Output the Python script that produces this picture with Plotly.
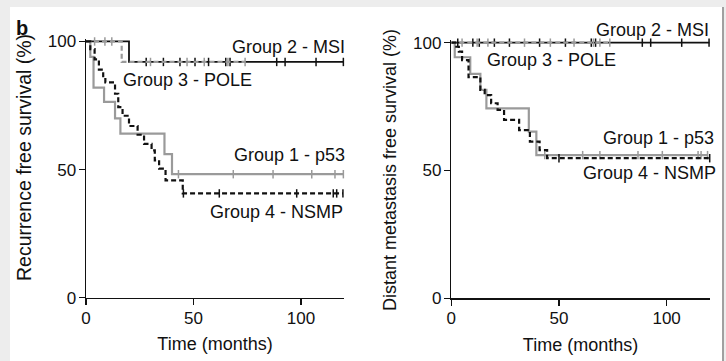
import plotly.graph_objects as go

# ---------------- data ----------------
# Left panel: Recurrence free survival (%)
rfs_msi_t = [0, 20]
rfs_msi_s = [100, 92]
rfs_msi_end = 120
rfs_msi_cens_t = [28, 36, 43.7, 50.7, 57, 65, 67, 88.7, 92.6, 107, 119.7]

rfs_pole_t = [0, 16.6]
rfs_pole_s = [100, 92]
rfs_pole_end = 74
rfs_pole_cens_t = [4, 8.8, 12]
rfs_pole_cens_t2 = [30, 47, 55, 66, 74]

rfs_p53_t = [0, 2, 3.5, 8.4, 13.5, 16, 36.5, 40]
rfs_p53_s = [100, 94, 82, 76.4, 70, 64, 56, 48.2]
rfs_p53_end = 120
rfs_p53_cens_t = [43, 68.5, 87, 105, 115.8, 119.7]

rfs_nsmp_t = [0, 2, 4, 6, 8, 9, 13.5, 15, 17, 20, 24, 27, 30.5, 32, 34, 37, 45]
rfs_nsmp_s = [100, 97, 93, 89, 86, 84, 79.6, 74.4, 71, 67, 63.6, 60, 57.5, 53.6, 50.4, 45.8, 40.7]
rfs_nsmp_end = 119.5
rfs_nsmp_cens_t = [45.3, 62, 98, 115, 116.6, 119.5]

# Right panel: Distant metastasis free survival (%)
dm_msi_t = [0]
dm_msi_s = [100]
dm_msi_end = 120
dm_msi_cens_t = [3, 10, 13, 20, 27, 41, 53, 65, 67, 88.7, 92.6, 107, 119.7]

dm_pole_t = [0]
dm_pole_s = [100]
dm_pole_end = 73.6
dm_pole_cens_t = [5, 12, 17, 34, 46, 57, 66, 69, 73.6]

dm_p53_t = [0, 1.6, 8.8, 13.5, 16.3, 36, 39.5]
dm_p53_s = [100, 94.3, 87.8, 81.5, 74.3, 65.2, 56]
dm_p53_end = 119
dm_p53_cens_t = [43.4, 61, 69, 86.7, 98, 114.6, 116, 119]

dm_nsmp_t = [0, 1.8, 3.5, 5, 8, 13.5, 15.5, 18.5, 21.5, 24.5, 31.5, 36.5, 41, 44.5]
dm_nsmp_s = [100, 98.4, 96.5, 93.2, 86.5, 81.5, 79.5, 76.3, 73.7, 69.8, 65.8, 61.3, 58, 54.8]
dm_nsmp_end = 120
dm_nsmp_cens_t = [50, 120]

x_ticks = [0, 50, 100]
y_ticks = [0, 50, 100]

group_labels = ["Group 1 - p53", "Group 2 - MSI", "Group 3 - POLE", "Group 4 - NSMP"]

BLACK = "#111111"
GRAY = "#9a9a9a"
FONT = "Liberation Sans, Arial, sans-serif"

W, H = 726, 361

fig = go.Figure()


def add_curve(t, s, end, cens, color, width, dash, xa, ya, cens2=None):
    xs = list(t) + [end]
    ys = list(s) + [s[-1]]
    fig.add_trace(go.Scatter(x=xs, y=ys, mode="lines", line=dict(color=color, width=width, dash=dash, shape="hv"),
                             xaxis=xa, yaxis=ya, showlegend=False, hoverinfo="skip"))
    if cens:
        fig.add_trace(go.Scatter(x=cens, y=[s[-1]] * len(cens), mode="markers",
                                 marker=dict(symbol="line-ns", size=6, line=dict(color=color, width=1.5)),
                                 xaxis=xa, yaxis=ya, showlegend=False, cliponaxis=False, hoverinfo="skip"))
    if cens2:
        fig.add_trace(go.Scatter(x=cens2, y=[s[0]] * len(cens2), mode="markers",
                                 marker=dict(symbol="line-ns", size=6, line=dict(color=color, width=1.5)),
                                 xaxis=xa, yaxis=ya, showlegend=False, cliponaxis=False, hoverinfo="skip"))


DASH = "5px,3px"
# left
add_curve(rfs_msi_t, rfs_msi_s, rfs_msi_end, rfs_msi_cens_t, BLACK, 1.8, "solid", "x", "y")
add_curve(rfs_pole_t, rfs_pole_s, rfs_pole_end, rfs_pole_cens_t2, GRAY, 2.2, DASH, "x", "y", cens2=rfs_pole_cens_t)
add_curve(rfs_p53_t, rfs_p53_s, rfs_p53_end, rfs_p53_cens_t, GRAY, 2.2, "solid", "x", "y")
add_curve(rfs_nsmp_t, rfs_nsmp_s, rfs_nsmp_end, rfs_nsmp_cens_t, BLACK, 2.2, DASH, "x", "y")
# right
add_curve(dm_msi_t, dm_msi_s, dm_msi_end, dm_msi_cens_t, BLACK, 1.8, "solid", "x2", "y2")
add_curve(dm_pole_t, dm_pole_s, dm_pole_end, dm_pole_cens_t, GRAY, 2.2, DASH, "x2", "y2")
add_curve(dm_p53_t, dm_p53_s, dm_p53_end, dm_p53_cens_t, GRAY, 2.2, "solid", "x2", "y2")
add_curve(dm_nsmp_t, dm_nsmp_s, dm_nsmp_end, dm_nsmp_cens_t, BLACK, 2.2, DASH, "x2", "y2")

axis_common = dict(showgrid=False, zeroline=False, showline=True, linecolor=BLACK, linewidth=1.5,
                   ticks="outside", ticklen=6, tickwidth=1.5, tickcolor=BLACK, automargin=False,
                   tickfont=dict(family=FONT, size=17, color=BLACK), fixedrange=True)

fig.update_layout(
    template="none",
    width=W, height=H,
    margin=dict(l=0, r=0, t=0, b=0, pad=0, autoexpand=False),
    paper_bgcolor="#ededed",
    plot_bgcolor="rgba(0,0,0,0)",
    font=dict(family=FONT, color=BLACK),
    xaxis=dict(domain=[86 / W, 344 / W], range=[0, 120], tickvals=x_ticks, anchor="y", ticklabelstandoff=-2,
               title=dict(text="Time (months)", font=dict(family=FONT, size=18, color=BLACK), standoff=11),
               **axis_common),
    yaxis=dict(domain=[(H - 297.7) / H, (H - 38.9) / H], range=[0, 101], tickvals=y_ticks, anchor="x",
               ticklabelstandoff=-1, **axis_common),
    xaxis2=dict(domain=[451.3 / W, 709.7 / W], range=[0, 120], tickvals=x_ticks, anchor="y2", ticklabelstandoff=-2,
                title=dict(text="Time (months)", font=dict(family=FONT, size=18, color=BLACK), standoff=11),
                **axis_common),
    yaxis2=dict(domain=[(H - 298.3) / H, (H - 40.1) / H], range=[0, 101], tickvals=y_ticks, anchor="x2",
                ticklabelstandoff=-1, **axis_common),
)

# frame background
fig.add_shape(type="rect", xref="paper", yref="paper", x0=10 / W, x1=722 / W, y0=0, y1=(H - 7) / H,
              fillcolor="white", line=dict(width=0), layer="below")
fig.add_shape(type="line", xref="paper", yref="paper", x0=723 / W, x1=723 / W, y0=0, y1=(H - 7) / H,
              line=dict(color="#a0a0a0", width=2), layer="below")

lab = dict(family=FONT, size=18, color=BLACK)


def px_ann(text, xp, yp, xanchor):
    return dict(text=text, xref="paper", yref="paper", x=xp / W, y=(H - yp) / H,
                xanchor=xanchor, yanchor="middle", font=lab)


ann = [
    dict(text="<b>b</b>", xref="paper", yref="paper", x=14 / W, y=(H - 28) / H, xanchor="left", yanchor="middle",
         font=dict(family=FONT, size=20, color=BLACK)),
    dict(text="Recurrence free survival (%)", xref="paper", yref="paper", x=24 / W, y=(H - 158) / H,
         textangle=-90, xanchor="center", yanchor="middle", font=dict(family=FONT, size=19.5, color=BLACK)),
    dict(text="Distant metastasis free survival (%)", xref="paper", yref="paper", x=390 / W, y=(H - 170) / H,
         textangle=-90, xanchor="center", yanchor="middle", font=lab),
    # left labels
    px_ann(group_labels[1], 346.5, 47, "right"),
    px_ann(group_labels[2], 120.5, 80, "left"),
    px_ann(group_labels[0], 346.5, 155, "right"),
    px_ann(group_labels[3], 345, 211.5, "right"),
    # right labels
    px_ann(group_labels[1], 711, 29.5, "right"),
    px_ann(group_labels[2], 485, 60, "left"),
    px_ann(group_labels[0], 716, 137.5, "right"),
    px_ann(group_labels[3], 717.5, 172.5, "right"),
]
for a in ann:
    a["showarrow"] = False
fig.update_layout(annotations=ann)

fig.write_html("out.html", config={"displayModeBar": False, "staticPlot": True},
               post_script="document.body.style.margin='0px';")
